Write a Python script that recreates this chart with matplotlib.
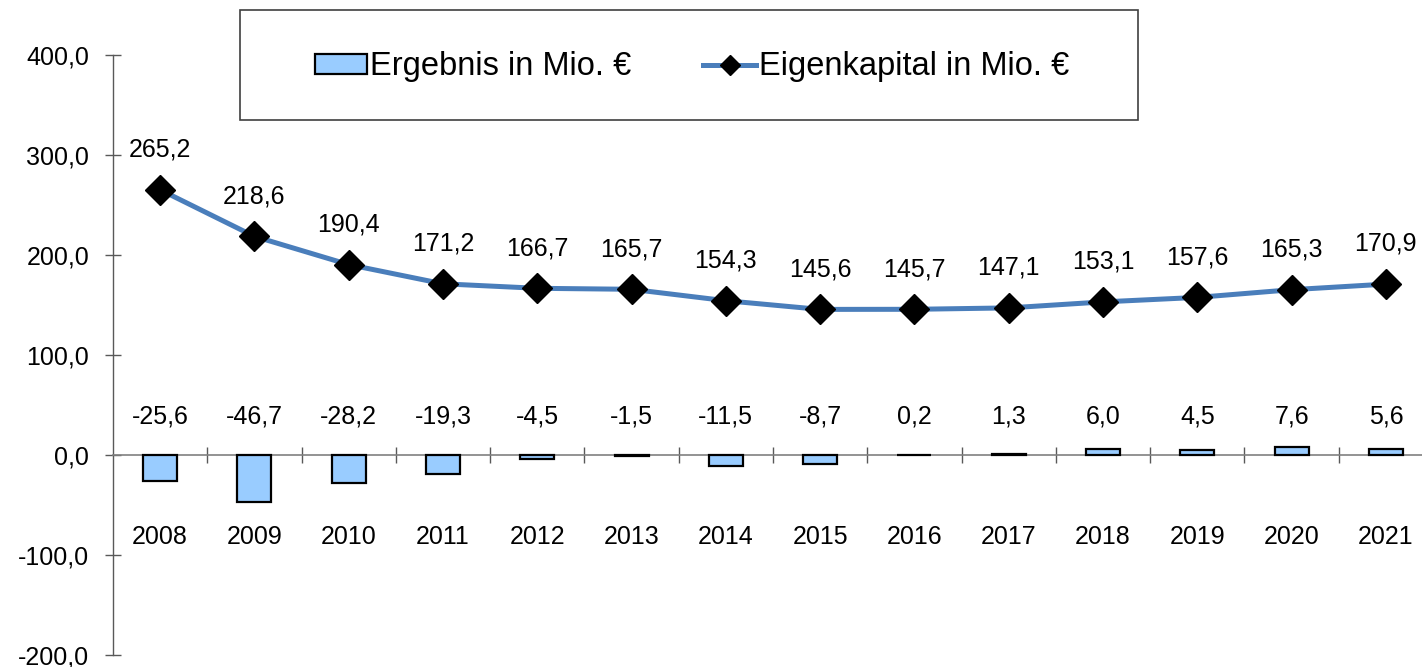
import matplotlib
matplotlib.use("Agg")
import matplotlib.pyplot as plt
from matplotlib.patches import Rectangle
from matplotlib.ticker import FixedLocator

plt.rcParams['font.family'] = ['Liberation Sans', 'DejaVu Sans']

years = ['2008', '2009', '2010', '2011', '2012', '2013', '2014',
         '2015', '2016', '2017', '2018', '2019', '2020', '2021']
ergebnis = [-25.6, -46.7, -28.2, -19.3, -4.5, -1.5, -11.5,
            -8.7, 0.2, 1.3, 6.0, 4.5, 7.6, 5.6]
eigenkapital = [265.2, 218.6, 190.4, 171.2, 166.7, 165.7, 154.3,
                145.6, 145.7, 147.1, 153.1, 157.6, 165.3, 170.9]
y_ticks = [-200, -100, 0, 100, 200, 300, 400]
label_bar = 'Ergebnis in Mio. €'
label_line = 'Eigenkapital in Mio. €'


def de(v):
    return f"{v:.1f}".replace('.', ',')


W, H = 1422, 667
fig = plt.figure(figsize=(W / 100, H / 100), dpi=100)
ax = fig.add_axes([113 / W, 1 - 655 / H, 1320 / W, 600 / H])
ax.set_xlim(-0.5, len(years) - 0.5)
ax.set_ylim(-200, 400)
ax.patch.set_alpha(0)

x = list(range(len(years)))
bars = ax.bar(x, ergebnis, width=0.36, color='#99CCFF', edgecolor='black',
              linewidth=1.6, zorder=3, label=label_bar)
line, = ax.plot(x, eigenkapital, color='#4A7EBB', linewidth=3.6, marker='D',
                markersize=15, markerfacecolor='black', markeredgecolor='black',
                zorder=4, label=label_line)

fs = 18
for xi, v in zip(x, ergebnis):
    ax.text(xi, 38, de(v), ha='center', va='center', fontsize=fs, zorder=5)
for xi, v in zip(x, eigenkapital):
    ax.annotate(de(v), (xi, v), xytext=(0, 29), textcoords='offset points',
                ha='center', va='center', fontsize=fs, zorder=5)

# spines
for s in ['top', 'right']:
    ax.spines[s].set_visible(False)
ax.spines['left'].set_color('#595959')
ax.spines['left'].set_linewidth(1.0)
ax.spines['bottom'].set_position(('data', 0))
ax.spines['bottom'].set_color('#808080')
ax.spines['bottom'].set_linewidth(1.2)

# y axis
ax.set_yticks(y_ticks)
ax.set_yticklabels([de(v) for v in y_ticks])
ax.tick_params(axis='y', direction='inout', length=11.5, width=1.0,
               color='#595959', pad=11.5, labelsize=fs)

# x axis
ax.set_xticks(x)
ax.set_xticklabels(years)
ax.tick_params(axis='x', which='major', length=0, pad=50.5, labelsize=fs)
ax.xaxis.set_minor_locator(FixedLocator([i + 0.5 for i in range(len(years))]))
ax.tick_params(axis='x', which='minor', direction='inout', length=11,
               width=1.0, color='#595959')

# legend box
fig.patches.append(Rectangle((240 / W, 1 - 120 / H), (1138 - 240) / W, 110 / H,
                             transform=fig.transFigure, fill=False,
                             edgecolor='#404040', linewidth=1.2))
fig.legend(handles=[bars, line], labels=[label_bar, label_line], loc='center',
           bbox_to_anchor=(692 / W, 1 - 67 / H), ncol=2, frameon=False,
           fontsize=23.5, handlelength=1.6, handleheight=0.55,
           handletextpad=0.1, columnspacing=2.2, markerscale=0.65)

fig.savefig('out.png', dpi=100)
